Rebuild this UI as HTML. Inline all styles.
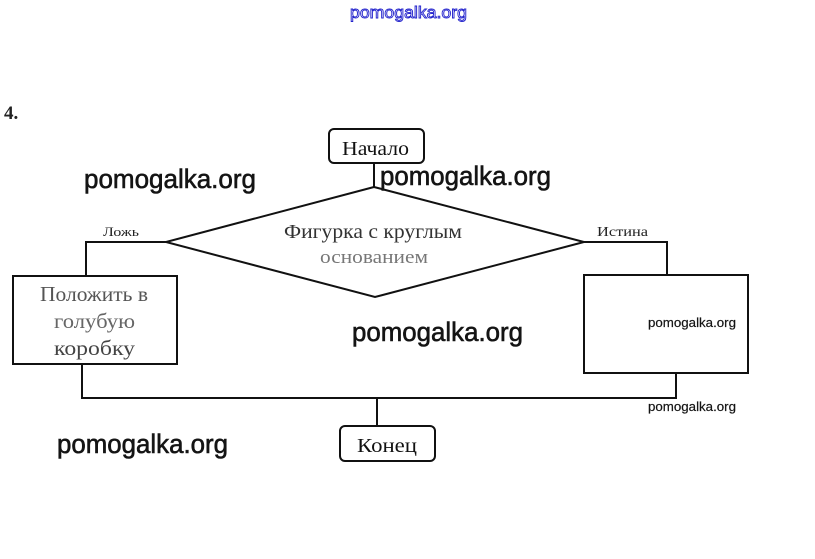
<!DOCTYPE html>
<html>
<head>
<meta charset="utf-8">
<style>
  html, body { margin: 0; padding: 0; background: #fff; }
  body { width: 815px; height: 559px; overflow: hidden; }
  svg { display: block; }
  .serif { font-family: "Liberation Serif", "DejaVu Serif", serif; }
  .wm { font-family: "Liberation Sans", "DejaVu Sans", sans-serif; fill: #141414; stroke: #141414; stroke-width: 0.6; }
  .wms { font-family: "Liberation Sans", "DejaVu Sans", sans-serif; fill: #141414; stroke: #141414; stroke-width: 0.2; }
</style>
</head>
<body>
<svg width="815" height="559" viewBox="0 0 815 559" xmlns="http://www.w3.org/2000/svg">
  <rect x="0" y="0" width="815" height="559" fill="#fff"/>

  <!-- top blue outlined watermark -->
  <text x="350" y="18" font-family="Liberation Sans, sans-serif" font-size="17" fill="#fff" stroke="#2222cc" stroke-width="0.9" textLength="117" lengthAdjust="spacingAndGlyphs">pomogalka.org</text>

  <!-- 4. -->
  <text x="4" y="119" class="serif" font-size="19" font-weight="bold" fill="#222">4.</text>

  <g fill="none" stroke="#111" stroke-width="2">
    <!-- start box -->
    <rect x="329" y="129" width="95" height="34" rx="5" ry="5"/>
    <line x1="374" y1="163" x2="374" y2="187"/>
    <!-- diamond -->
    <polyline points="374,187 166,242 375,297 584,242 374,187"/>
    <!-- left branch -->
    <polyline points="166,242 86,242 86,276"/>
    <rect x="13" y="276" width="164" height="88"/>
    <!-- right branch -->
    <polyline points="584,242 667,242 667,275"/>
    <rect x="584" y="275" width="164" height="98"/>
    <!-- merge -->
    <polyline points="82,364 82,398 676,398 676,373"/>
    <line x1="377" y1="398" x2="377" y2="426"/>
    <!-- end box -->
    <rect x="340" y="426" width="95" height="35" rx="5" ry="5"/>
  </g>

  <!-- node texts -->
  <text x="342" y="155" class="serif" font-size="20" fill="#111" textLength="67" lengthAdjust="spacingAndGlyphs">Начало</text>
  <text x="357" y="452" class="serif" font-size="20" fill="#111" textLength="60" lengthAdjust="spacingAndGlyphs">Конец</text>
  <text x="103" y="236" class="serif" font-size="13" fill="#222" textLength="36" lengthAdjust="spacingAndGlyphs">Ложь</text>
  <text x="597" y="236" class="serif" font-size="14" fill="#222" textLength="51" lengthAdjust="spacingAndGlyphs">Истина</text>
  <text x="284" y="238" class="serif" font-size="20" fill="#333" textLength="178" lengthAdjust="spacingAndGlyphs">Фигурка с круглым</text>
  <text x="320" y="263" class="serif" font-size="19" fill="#777" textLength="108" lengthAdjust="spacingAndGlyphs">основанием</text>
  <text x="40" y="301" class="serif" font-size="21" fill="#555" textLength="108" lengthAdjust="spacingAndGlyphs">Положить в</text>
  <text x="54" y="328" class="serif" font-size="21" fill="#666" textLength="81" lengthAdjust="spacingAndGlyphs">голубую</text>
  <text x="54" y="355" class="serif" font-size="21" fill="#444" textLength="81" lengthAdjust="spacingAndGlyphs">коробку</text>

  <!-- watermarks -->
  <text x="84" y="188" class="wm" font-size="27" textLength="172" lengthAdjust="spacingAndGlyphs">pomogalka.org</text>
  <text x="380" y="185" class="wm" font-size="27" textLength="171" lengthAdjust="spacingAndGlyphs">pomogalka.org</text>
  <text x="352" y="341" class="wm" font-size="27" textLength="171" lengthAdjust="spacingAndGlyphs">pomogalka.org</text>
  <text x="57" y="453" class="wm" font-size="27" textLength="171" lengthAdjust="spacingAndGlyphs">pomogalka.org</text>
  <text x="648" y="327" class="wms" font-size="13" textLength="88" lengthAdjust="spacingAndGlyphs">pomogalka.org</text>
  <text x="648" y="411" class="wms" font-size="13" textLength="88" lengthAdjust="spacingAndGlyphs">pomogalka.org</text>
</svg>
</body>
</html>
